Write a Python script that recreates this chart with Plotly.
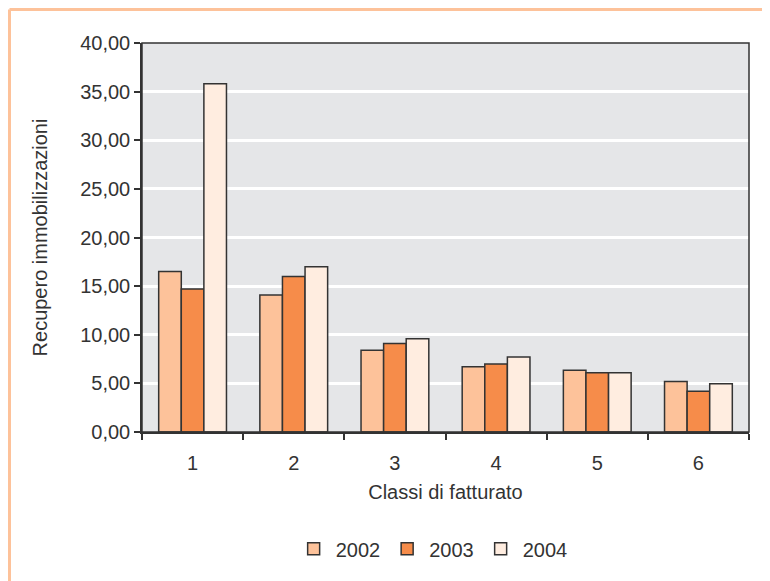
import plotly.graph_objects as go

categories = [1, 2, 3, 4, 5, 6]
years = ["2002", "2003", "2004"]
v2002 = [16.5, 14.1, 8.4, 6.7, 6.35, 5.2]
v2003 = [14.7, 16.0, 9.1, 7.0, 6.1, 4.2]
v2004 = [35.8, 17.0, 9.6, 7.7, 6.1, 4.95]
colors = ["#FDC29A", "#F68C4A", "#FFEDE0"]

fig = go.Figure()
for name, vals, c in zip(years, [v2002, v2003, v2004], colors):
    fig.add_trace(go.Bar(x=categories, y=vals, name=name,
                         marker=dict(color=c, line=dict(color="#333333", width=1.5))))

L, T, W, H = 134, 35, 607, 389
font = dict(family="Liberation Sans, Arial, sans-serif", size=20, color="#333333")
fig.update_layout(
    width=770, height=581,
    margin=dict(l=L, r=770 - L - W, t=T, b=581 - T - H),
    paper_bgcolor="white", plot_bgcolor="#E5E6E8",
    barmode="group", bargap=0.33, bargroupgap=0,
    font=font,
    showlegend=True,
    legend=dict(orientation="h", x=0.478, xanchor="center", y=-0.25, yanchor="top",
                font=dict(size=20, color="#333333"), traceorder="normal",
                itemwidth=34),
    xaxis=dict(range=[0.5, 6.5], tickvals=categories, ticktext=[str(c) for c in categories],
               ticks="", showgrid=False, showline=True, linecolor="#333333", linewidth=1.5,
               zeroline=False, ticklabelstandoff=12,
               minor=dict(tickvals=[0.5, 1.5, 2.5, 3.5, 4.5, 5.5, 6.5], ticks="outside",
                          ticklen=6, tickwidth=1.5, tickcolor="#333333", showgrid=False),
               title=dict(text="Classi di fatturato", standoff=12, font=dict(size=20))),
    yaxis=dict(range=[0, 40], dtick=5, tickformat=".2f", ticks="outside", ticklen=6,
               tickwidth=1.5, tickcolor="#333333", showline=True, linecolor="#333333",
               linewidth=1.5, gridcolor="white", gridwidth=2.5, zeroline=False,
               title=dict(text="Recupero immobilizzazioni", standoff=27, font=dict(size=20))),
    separators=",.",
)
# right and top plot border
fig.add_shape(type="rect", xref="paper", yref="paper", x0=0, y0=0, x1=1, y1=1,
              line=dict(color="#333333", width=1.5), layer="above")
# decorative orange frame
fx = (1.5 - L) / W
fy = (T + H - 1.5) / H
fig.add_shape(type="line", xref="paper", yref="paper", x0=fx, x1=(800 - L) / W,
              y0=fy, y1=fy, line=dict(color="#FDC29A", width=3))
fig.add_shape(type="line", xref="paper", yref="paper", x0=fx, x1=fx,
              y0=fy, y1=(T + H - 620) / H, line=dict(color="#FDC29A", width=3))

fig.write_html("out.html")
